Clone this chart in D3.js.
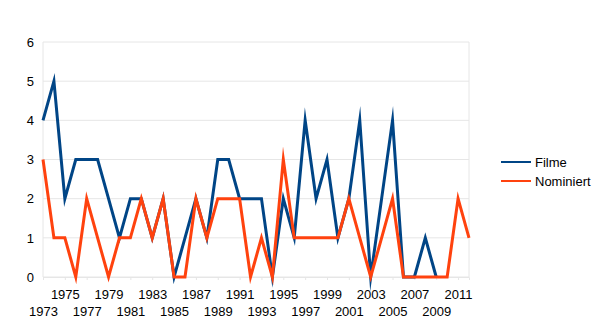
<!DOCTYPE html>
<html><head><meta charset="utf-8">
<script src="https://cdn.jsdelivr.net/npm/d3@7"></script>
<style>body{margin:0;background:#fff}svg{display:block}text{font-family:"Liberation Sans",Arial,sans-serif;fill:#000}</style>
</head><body>
<svg id="c" width="600" height="334"></svg>
<script>
const years = d3.range(1973, 2013);
const filme = [4,5,2,3,3,3,2,1,2,2,1,2,0,1,2,1,3,3,2,2,2,0,2,1,4,2,3,1,2,4,0,2,4,0,0,1,0,null,null,null];
const nominiert = [3,1,1,0,2,1,0,1,1,2,1,2,0,0,2,1,2,2,2,0,1,0,3,1,1,1,1,1,2,1,0,1,2,0,0,0,0,0,2,1];
const yTicks = [0,1,2,3,4,5,6];
const seriesNames = ["Filme","Nominiert"];
const colors = ["#004586","#ff420e"];

const svg = d3.select("#c");
const x = d3.scalePoint().domain(years).range([43, 469]);
const y = d3.scaleLinear().domain([0,6]).range([277, 42]);

// grid
svg.append("g").selectAll("line").data(yTicks).join("line")
  .attr("x1",43).attr("x2",469).attr("y1",d=>y(d)).attr("y2",d=>y(d))
  .attr("stroke","#e6e6e6").attr("stroke-width",1);
svg.append("line").attr("x1",43).attr("x2",43).attr("y1",42).attr("y2",277).attr("stroke","#e6e6e6");
svg.append("line").attr("x1",469).attr("x2",469).attr("y1",42).attr("y2",277).attr("stroke","#e6e6e6");

// y labels
const yAxis = d3.axisLeft(y).tickValues(yTicks).tickSize(0).tickPadding(9).tickFormat(d3.format("d"));
const gy = svg.append("g").attr("transform","translate(43,0)").call(yAxis);
gy.select(".domain").remove();
gy.selectAll("text").style("font-size","13px").style("font-family","Liberation Sans, Arial, sans-serif").attr("fill","#000");

// x labels (odd years, staggered)
const xLab = years.filter(d=>d%2===1);
const gx = svg.append("g").attr("transform","translate(0,277)");
gx.call(d3.axisBottom(x).tickValues(xLab).tickSize(3).tickPadding(0).tickFormat(d=>d));
gx.select(".domain").attr("stroke","#e6e6e6");
gx.selectAll(".tick line").attr("stroke","#e6e6e6");
gx.selectAll(".tick text")
  .style("font-size","13px").style("font-family","Liberation Sans, Arial, sans-serif").attr("fill","#000")
  .attr("dy",null)
  .attr("y",(d)=> ((d-1973)/2)%2===0 ? 39 : 22)
  .attr("dominant-baseline","auto");

// lines
const line = d3.line().defined(d=>d[1]!=null).x(d=>x(d[0])).y(d=>y(d[1]));
[filme, nominiert].forEach((s,i)=>{
  svg.append("path").datum(years.map((yr,j)=>[yr,s[j]]))
    .attr("d",line).attr("fill","none").attr("stroke",colors[i])
    .attr("stroke-width",3).attr("stroke-linejoin","miter").attr("stroke-miterlimit",10);
});

// legend
const lg = svg.append("g");
seriesNames.forEach((n,i)=>{
  const yy = 162 + i*19;
  lg.append("line").attr("x1",501).attr("x2",531).attr("y1",yy).attr("y2",yy).attr("stroke",colors[i]).attr("stroke-width",2);
  lg.append("text").attr("x",535).attr("y",yy+5).style("font-size","13px").text(n);
});
</script>
</body></html>
